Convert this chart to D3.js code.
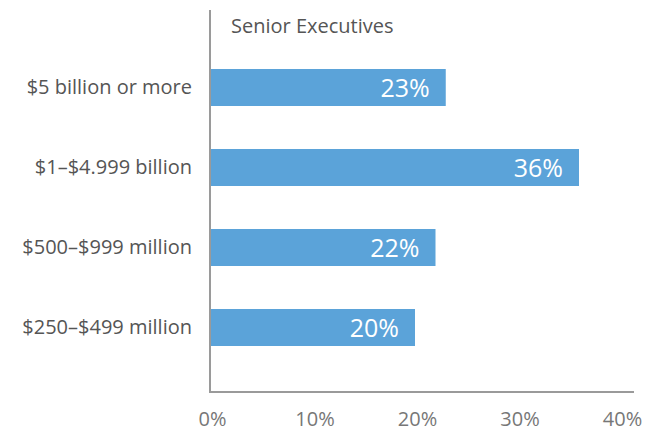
<!DOCTYPE html>
<html><head><meta charset="utf-8">
<script src="https://cdn.jsdelivr.net/npm/d3@7"></script>
<style>
html,body{margin:0;padding:0;background:#fff;}
svg{display:block;font-family:"Open Sans",sans-serif;}
</style></head>
<body><svg id="chart" width="654" height="433"></svg>
<script>
const categories = ["$5 billion or more", "$1\u2013$4.999 billion", "$500\u2013$999 million", "$250\u2013$499 million"];
const values = [23, 36, 22, 20];
const tickValues = [0, 10, 20, 30, 40];
const seriesName = "Senior Executives";

const svg = d3.select("#chart");
const x = d3.scaleLinear().domain([0, 40]).range([210, 620]);
const y = d3.scaleBand().domain(categories).range([26, 389]).padding(0.5375);

// bars
svg.selectAll("rect.bar").data(values).join("rect")
  .attr("class","bar")
  .attr("x", x(0))
  .attr("y", (d,i) => y(categories[i]))
  .attr("width", d => x(d) - x(0))
  .attr("height", y.bandwidth())
  .attr("fill", "#5ba3d9");

// value labels
svg.selectAll("text.val").data(values).join("text")
  .attr("class","val")
  .attr("x", d => x(d) - 16)
  .attr("y", (d,i) => y(categories[i]) + y.bandwidth()/2 + 9)
  .attr("text-anchor","end")
  .attr("fill","#fff")
  .attr("font-size", 25)
  .text(d => d + "%");

// category labels (y axis)
const yAxis = d3.axisLeft(y).tickSize(0).tickPadding(18);
const gy = svg.append("g").attr("transform", `translate(${x(0)},0)`).call(yAxis);
gy.select(".domain").remove();
gy.selectAll("text").attr("font-size", 20).attr("fill", "#555").attr("font-family", "Open Sans, sans-serif").attr("dy", "0.32em");

// x axis labels
const xAxis = d3.axisBottom(x).tickValues(tickValues).tickSize(0).tickPadding(20).tickFormat(d => d + "%");
const gx = svg.append("g").attr("transform", "translate(2,392)").call(xAxis);
gx.select(".domain").remove();
gx.selectAll("text").attr("font-size", 20).attr("fill", "#777").attr("font-family", "Open Sans, sans-serif").attr("dy", "0.71em");

// axis lines
svg.append("line").attr("x1", x(0)).attr("x2", x(0)).attr("y1", 10).attr("y2", 393)
  .attr("stroke", "#9a9a9a").attr("stroke-width", 2);
svg.append("line").attr("x1", x(0) - 1).attr("x2", 634).attr("y1", 392).attr("y2", 392)
  .attr("stroke", "#9a9a9a").attr("stroke-width", 2);

// series title
svg.append("text").attr("x", 231).attr("y", 33).attr("font-size", 20).attr("fill", "#555").text(seriesName);
</script></body></html>
